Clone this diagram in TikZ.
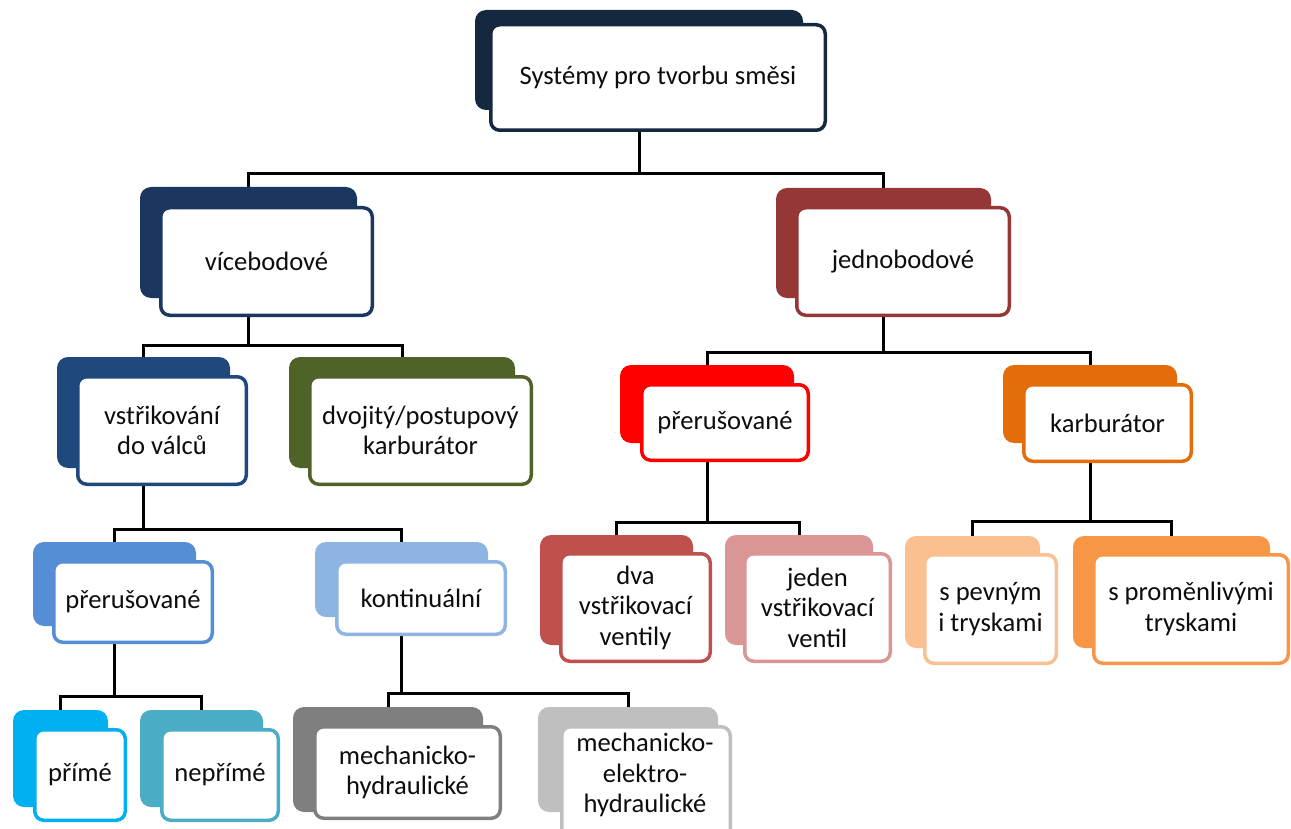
\documentclass[tikz,border=0pt]{standalone}
\usepackage{fontspec}
\setmainfont{Carlito}
\usetikzlibrary{fit,backgrounds}
\definecolor{cRoot}{HTML}{14283F}
\definecolor{cVice}{HTML}{1B3760}
\definecolor{cJedno}{HTML}{953735}
\definecolor{cVstr}{HTML}{1F497D}
\definecolor{cDvoj}{HTML}{4F6228}
\definecolor{cPreR}{HTML}{FF0000}
\definecolor{cKarb}{HTML}{E46C0A}
\definecolor{cPreB}{HTML}{558ED5}
\definecolor{cKont}{HTML}{8EB4E3}
\definecolor{cDva}{HTML}{C0504D}
\definecolor{cJeden}{HTML}{D99694}
\definecolor{cPevny}{HTML}{FAC090}
\definecolor{cPromen}{HTML}{F79646}
\definecolor{cPrime}{HTML}{00B0F0}
\definecolor{cNeprime}{HTML}{4BACC6}
\definecolor{cMechH}{HTML}{7F7F7F}
\definecolor{cMechE}{HTML}{BFBFBF}
\tikzset{
  backbox/.style={inner sep=0pt, rounded corners=11pt, fill=#1, draw=none},
  frontbox/.style={inner sep=-1.75pt, rounded corners=9pt, fill=white, draw=#1, line width=3.5pt},
  lbl/.style={align=center, inner sep=0pt, font=\fontsize{26.6}{30.5}\selectfont, text=black!95},
  conn/.style={line width=3pt, draw=black},
}
\newcommand\obox[5]{%
  \node[backbox=#2, fit={#3}] (#1-b) {};
  \node[frontbox=#2, fit={#4}] (#1) {};
  \node[lbl] (#1-t) at (#1.center) {#5};
}
\begin{document}
\begin{tikzpicture}[x=1pt,y=-1pt]
\useasboundingbox (0,0) rectangle (1291,829);
\obox{root}{cRoot}{(475,10) (803,110)}{(489,23) (827,132)}{Systémy pro tvorbu směsi}
\obox{vice}{cVice}{(140,187) (357,298)}{(159,206) (374,317)}{vícebodové}
\obox{jedno}{cJedno}{(776,188) (991,298)}{(795,206) (1011,317)}{jednobodové}
\obox{vstr}{cVstr}{(57,357) (230,468)}{(76,375) (248,486)}{vstřikování\\do válců}
\obox{dvoj}{cDvoj}{(289,357) (515,468)}{(308,375) (533,486)}{dvojitý/postupový\\karburátor}
\obox{preR}{cPreR}{(620,365) (794,443)}{(640,383) (810,462)}{přerušované}
\obox{karb}{cKarb}{(1003,365) (1177,443)}{(1022,383) (1193,463)}{karburátor}
\obox{preB}{cPreB}{(33,542) (196,626)}{(52,560) (214,644)}{přerušované}
\obox{kont}{cKont}{(315,542) (488,617)}{(335,560) (507,636)}{kontinuální}
\obox{dva}{cDva}{(540,535) (693,645)}{(559,552) (712,663)}{dva\\vstřikovací\\ventily}
\obox{jeden}{cJeden}{(725,535) (873,645)}{(743,552) (892,663)}{jeden\\vstřikovací\\ventil}
\obox{pevny}{cPevny}{(905,536) (1040,648)}{(923,553) (1058,665)}{s pevným\\i tryskami}
\obox{promen}{cPromen}{(1073,536) (1270,648)}{(1092,553) (1290,665)}{s proměnlivými\\tryskami}
\obox{prime}{cPrime}{(13,710) (108,807)}{(33,728) (127,822)}{přímé}
\obox{neprime}{cNeprime}{(140,710) (263,807)}{(160,728) (280,822)}{nepřímé}
\obox{mechH}{cMechH}{(293,707) (483,812)}{(313,725) (502,820)}{mechanicko-\\hydraulické}
\node[backbox=cMechE, fit={(538,707) (718,812)}] (mechE-b) {};
\node[frontbox=cMechE, fit={(560,725) (732,845)}] (mechE) {};
\node[lbl] (mechE-t) at (645,775) {mechanicko-\\elektro-\\hydraulické};
\coordinate (j0) at (0,174);
\coordinate (j1) at (0,345);
\coordinate (j2) at (0,352);
\coordinate (j3) at (0,529);
\coordinate (j4) at (0,522);
\coordinate (j5) at (0,521);
\coordinate (j6) at (0,696);
\coordinate (j7) at (0,693);
\begin{pgfonlayer}{background}
\draw[conn] (root-b.center) -- (root-b.center |- j0) -| (vice-b.north);
\draw[conn] (root-b.center) -- (root-b.center |- j0) -| (jedno-b.north);
\draw[conn] (vice-b.center) -- (vice-b.center |- j1) -| (vstr-b.north);
\draw[conn] (vice-b.center) -- (vice-b.center |- j1) -| (dvoj-b.north);
\draw[conn] (jedno-b.center) -- (jedno-b.center |- j2) -| (preR-b.north);
\draw[conn] (jedno-b.center) -- (jedno-b.center |- j2) -| (karb-b.north);
\draw[conn] (vstr-b.center) -- (vstr-b.center |- j3) -| (preB-b.north);
\draw[conn] (vstr-b.center) -- (vstr-b.center |- j3) -| (kont-b.north);
\draw[conn] (preR-b.center) -- (preR-b.center |- j4) -| (dva-b.north);
\draw[conn] (preR-b.center) -- (preR-b.center |- j4) -| (jeden-b.north);
\draw[conn] (karb-b.center) -- (karb-b.center |- j5) -| (pevny-b.north);
\draw[conn] (karb-b.center) -- (karb-b.center |- j5) -| (promen-b.north);
\draw[conn] (preB-b.center) -- (preB-b.center |- j6) -| (prime-b.north);
\draw[conn] (preB-b.center) -- (preB-b.center |- j6) -| (neprime-b.north);
\draw[conn] (kont-b.center) -- (kont-b.center |- j7) -| (mechH-b.north);
\draw[conn] (kont-b.center) -- (kont-b.center |- j7) -| (mechE-b.north);
\end{pgfonlayer}
\end{tikzpicture}
\end{document}
